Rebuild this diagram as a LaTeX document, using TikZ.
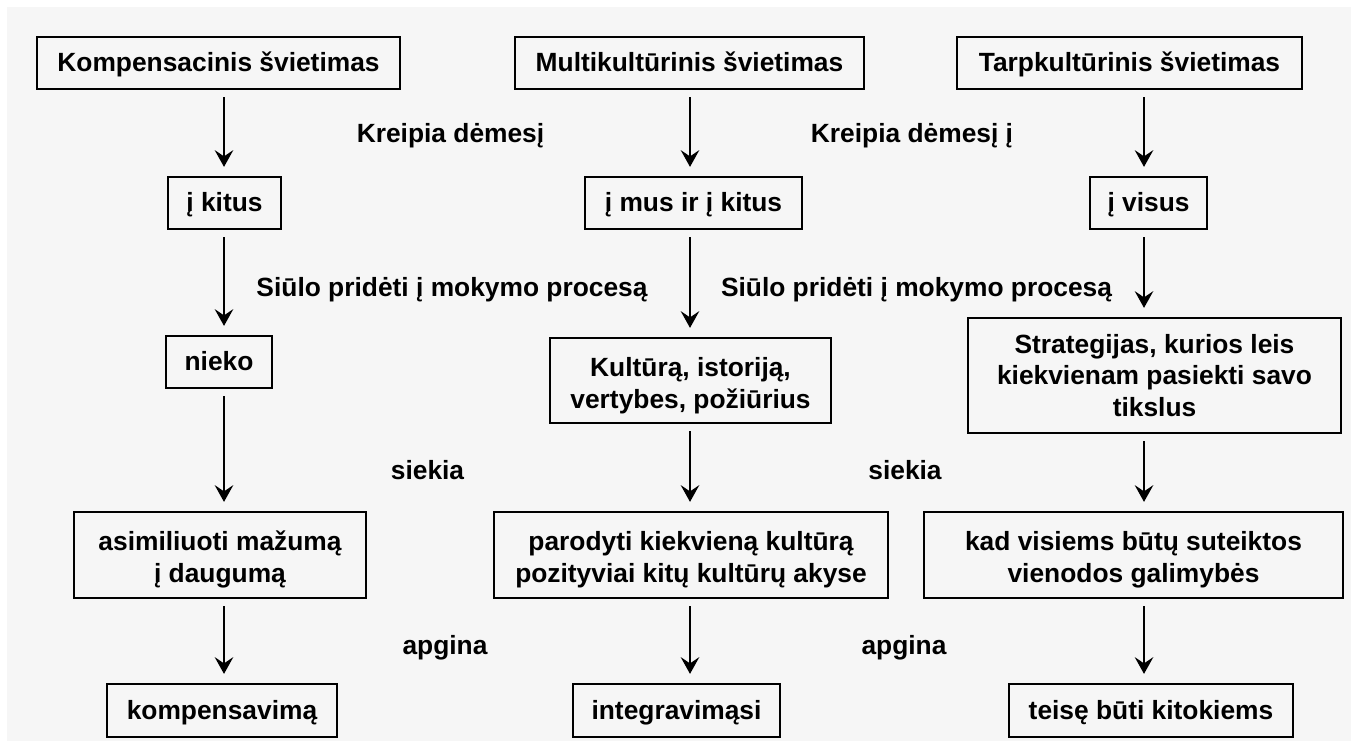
\documentclass[tikz,border=0pt]{standalone}
\usepackage{fontspec}
\setmainfont{Liberation Sans}
\usetikzlibrary{arrows.meta}
\definecolor{bggray}{RGB}{246,246,246}
\tikzset{
    mybox/.style = {rectangle, line width=1.5pt, draw=black, fill=bggray, align=center, inner sep=0pt, font=\bfseries\fontsize{15}{18}\selectfont},
    myboxs/.style = {mybox, text height=11pt, text depth=1pt}, % one line
    myboxd/.style = {mybox, text height=34.5pt, text depth=3.2pt}, % two lines
    mylabel/.style = {anchor=base, inner sep=0pt, font=\bfseries\fontsize{15}{18}\selectfont},
    edgen/.style = {-{Stealth[length=9.5pt,width=10.5pt,inset=3.5pt]}, line width=1.4pt, shorten <=4pt, shorten >=5pt},
}

\begin{document}
\begin{tikzpicture}[x=0.02cm, y=-0.02cm]
\useasboundingbox (0,0) rectangle (1351,741);
\fill[white] (0,0) rectangle (1351,741);
\fill[bggray] (7,7) rectangle (1351,741); % page
\coordinate (c1) at (224,0);
\coordinate (c2) at (690,0);
\coordinate (c3) at (1144,0);
%
\node[myboxs, minimum width=7.26cm, minimum height=1.04cm] at (218.5,63) (komp) {Kompensacinis švietimas};
\node[myboxs, minimum width=6.98cm, minimum height=1.04cm] at (689.5,63) (multi) {Multikultūrinis švietimas};
\node[myboxs, minimum width=6.9cm, minimum height=1.04cm] at (1129.5,63) (tarp) {Tarpkultūrinis švietimas};
\node[myboxs, minimum width=2.26cm, minimum height=1.04cm] at (224.5,203) (kitus) {į kitus};
\node[myboxs, minimum width=4.34cm, minimum height=1.04cm] at (693.5,203) (mus) {į mus ir į kitus};
\node[myboxs, minimum width=2.34cm, minimum height=1.04cm] at (1148.5,203) (visus) {į visus};
\node[myboxs, minimum width=2.12cm, minimum height=1.04cm] at (219,362) (nieko) {nieko};
\node[myboxd, minimum width=5.62cm, minimum height=1.7cm] at (690.5,380.5) (kultura) {Kultūrą, istoriją,\\vertybes, požiūrius};
\node[mybox, minimum width=7.46cm, minimum height=2.3cm] at (1154.5,375.5) (strateg) {Strategijas, kurios leis\\kiekvienam pasiekti savo\\tikslus};
\node[myboxd, minimum width=5.84cm, minimum height=1.72cm] at (220,555) (asim) {asimiliuoti mažumą\\į daugumą};
\node[myboxd, minimum width=7.88cm, minimum height=1.72cm] at (691,555) (parod) {parodyti kiekvieną kultūrą\\pozityviai kitų kultūrų akyse};
\node[myboxd, minimum width=8.38cm, minimum height=1.72cm] at (1133.5,555) (kad) {kad visiems būtų suteiktos\\vienodos galimybės};
\node[myboxs, minimum width=4.6cm, minimum height=1.06cm] at (222,710.5) (kompens) {kompensavimą};
\node[myboxs, minimum width=4.14cm, minimum height=1.06cm] at (676.5,710.5) (integ) {integravimąsi};
\node[myboxs, minimum width=5.68cm, minimum height=1.06cm] at (1151,710.5) (teise) {teisę būti kitokiems};
%
\node[mylabel] at (450.5,142) (kreipa) {Kreipia dėmesį};
\node[mylabel] at (912,142) (kreipb) {Kreipia dėmesį į};
\node[mylabel] at (452,296) (siuloa) {Siūlo pridėti į mokymo procesą};
\node[mylabel] at (916.5,296) (siulob) {Siūlo pridėti į mokymo procesą};
\node[mylabel] at (427.5,479) (siekiaa) {siekia};
\node[mylabel] at (905,479) (siekiab) {siekia};
\node[mylabel] at (445,654) (apginaa) {apgina};
\node[mylabel] at (904,654) (apginab) {apgina};
%
\draw[edgen] (komp.south -| c1) -- (kitus.north -| c1);
\draw[edgen] (kitus.south -| c1) -- (nieko.north -| c1);
\draw[edgen] (nieko.south -| c1) -- (asim.north -| c1);
\draw[edgen] (asim.south -| c1) -- (kompens.north -| c1);
\draw[edgen] (multi.south -| c2) -- (mus.north -| c2);
\draw[edgen] (mus.south -| c2) -- (kultura.north -| c2);
\draw[edgen] (kultura.south -| c2) -- (parod.north -| c2);
\draw[edgen] (parod.south -| c2) -- (integ.north -| c2);
\draw[edgen] (tarp.south -| c3) -- (visus.north -| c3);
\draw[edgen] (visus.south -| c3) -- (strateg.north -| c3);
\draw[edgen] (strateg.south -| c3) -- (kad.north -| c3);
\draw[edgen] (kad.south -| c3) -- (teise.north -| c3);
\end{tikzpicture}
\end{document}
